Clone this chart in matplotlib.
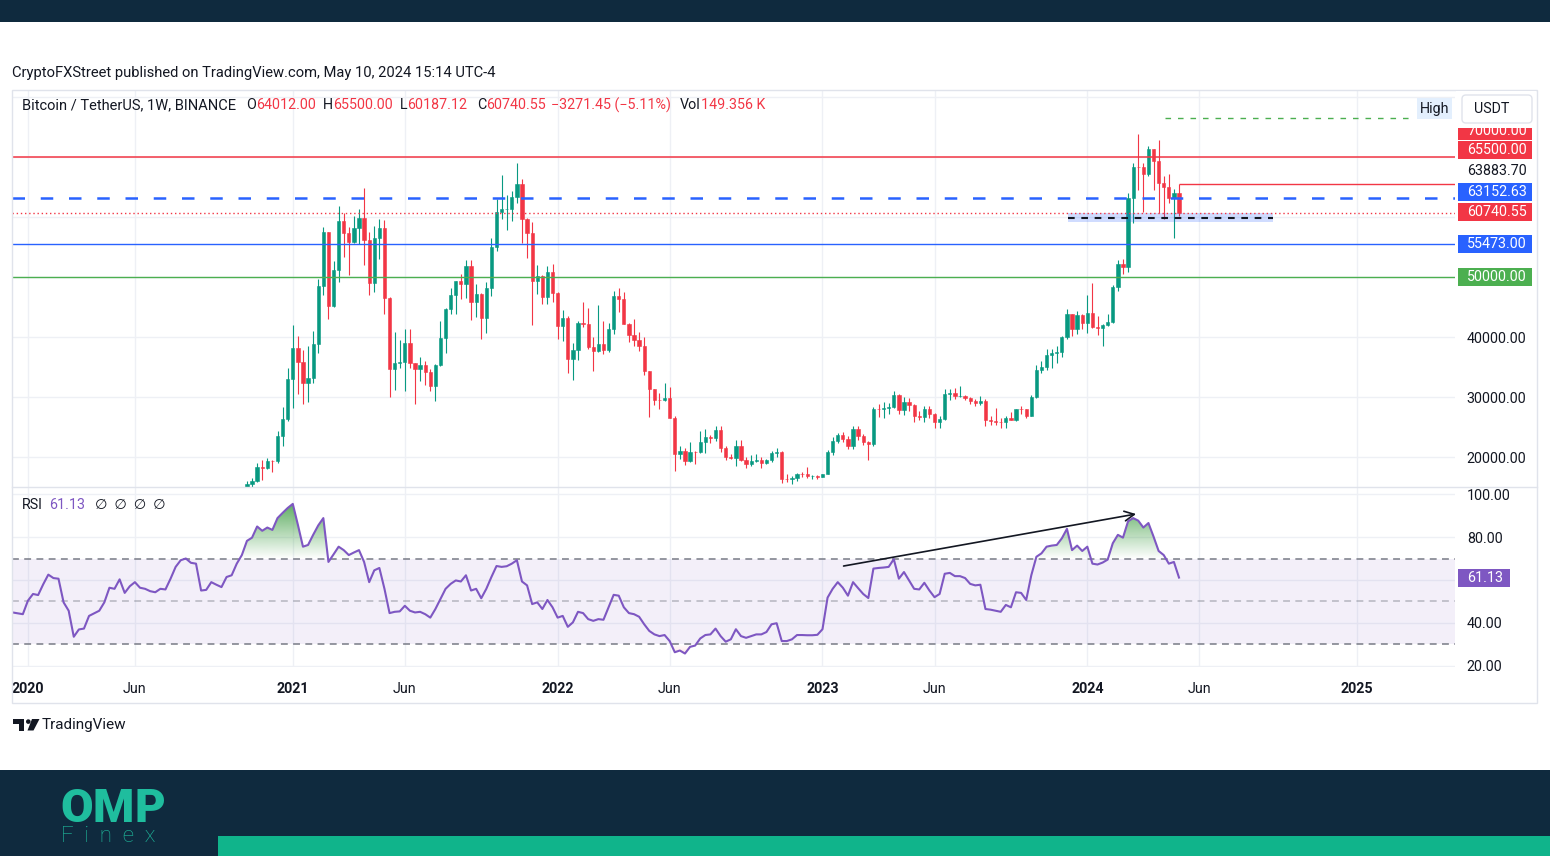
import numpy as np
import pandas as pd
import matplotlib
matplotlib.use('Agg')
import matplotlib.pyplot as plt
import matplotlib.dates as mdates
from matplotlib.patches import Rectangle, FancyBboxPatch, PathPatch, Polygon, Circle
from matplotlib.path import Path

plt.rcParams['font.family'] = ['Roboto', 'DejaVu Sans']
plt.rcParams['mathtext.fontset'] = 'custom'
plt.rcParams['mathtext.bf'] = 'Roboto:black'

# ---- weekly BTC/USDT candles, first bar = week of 2020-11-02 ----
opens = [
    13737, 15480, 15960, 18410, 18180, 19375, 19270, 23480, 26280,
    33000, 38150, 35830, 32260, 33100, 38860, 48580, 57490, 45140, 51200,
    59300, 57350, 55800, 58200, 59770, 56250, 49050, 56580, 58240, 46430,
    34655, 35660, 35800, 39000, 35600, 34700, 35290, 34250, 31780, 35400,
    39850, 44600, 47050, 49300, 48800, 51800, 45900, 47250, 43200, 48200,
    54970, 60860, 61300, 61320, 63270, 65500, 59700, 57270, 49400, 50100,
    46700, 50800,
    47300, 41860, 43100, 36280, 37900, 42400, 42200, 38350, 37700, 38800,
    37780, 41260, 46830, 46400, 42150, 40380, 39450, 38470, 34300, 31330,
    29450, 29440, 29900, 26570, 20550, 21030, 19300, 20830, 20800, 22580,
    23300, 23180, 24440, 21520, 20050, 19800, 21830, 19420, 18800, 19310,
    19420, 19060, 19570, 20630, 20900, 16330, 16280, 16450, 17100, 17090,
    16780, 16840,
    16620, 17120, 20880, 22700, 23750, 22930, 21780, 24630, 23550, 22430,
    22130, 28000, 27990, 28170, 28330, 30300, 27820, 29230, 28700, 26900,
    26750, 28080, 27100, 25900, 26340, 30470, 30590, 30160, 30230, 29790,
    29280, 29050, 29280, 26100, 26000, 25840, 25830, 26530, 26250, 27990,
    27930, 26860, 29990, 34530, 35010, 37060, 37380, 37450, 39970, 43790,
    41370, 43720,
    42280, 43930, 41730, 41580, 42030, 42580, 48300, 52140, 51730, 63110,
    68350, 68300, 67210, 71280, 69360, 65660, 64940, 63100, 64012,
]
highs = [
    15960, 16480, 18950, 19480, 19915, 19420, 24295, 28400, 34800,
    41950, 40100, 37850, 38530, 40950, 49700, 58350, 57530, 52640, 61840,
    60630, 58400, 60200, 61300, 64850, 57520, 58460, 59600, 59500, 46660,
    40900, 39480, 41300, 41400, 35750, 36600, 35950, 34680, 35500, 42600,
    44800, 48150, 49400, 50500, 52900, 52900, 48850, 47350, 49230, 56560,
    62930, 67000, 63700, 64270, 69000, 66400, 59900, 59180, 51950, 50400,
    51900, 52100,
    47560, 44500, 43500, 38920, 42650, 45850, 44770, 40000, 45400, 42600,
    42330, 47700, 48190, 47500, 42400, 42980, 40800, 40000, 34400, 31350,
    30600, 32400, 31750, 26880, 21870, 21540, 22500, 21000, 24280, 24670,
    23650, 25200, 25200, 21900, 20580, 22800, 22800, 19960, 20400, 20480,
    19950, 19700, 21080, 21480, 21050, 17190, 16770, 17400, 17420, 18390,
    17060, 16970,
    17180, 21250, 23380, 23960, 24250, 23450, 25250, 25130, 23880, 22600,
    28400, 28870, 29200, 29000, 31000, 30550, 30030, 29870, 28900, 27650,
    28450, 28450, 27400, 26790, 31400, 31300, 31520, 31800, 30340, 29990,
    29730, 30240, 29680, 26830, 28150, 26430, 26780, 27480, 28050, 28580,
    27990, 30380, 35280, 35980, 37980, 37980, 38420, 40250, 44700, 43800,
    44300, 43800,
    47000, 48970, 43580, 42200, 43880, 48600, 52820, 52990, 64000, 69000,
    73780, 68920, 71770, 71340, 72800, 66870, 67230, 64700, 65500,
]
lows = [
    13200, 15080, 15800, 16200, 18000, 17570, 19000, 21800, 26000,
    28130, 30420, 28850, 29240, 32300, 37400, 47000, 43000, 44950, 49200,
    53270, 50400, 55680, 55470, 52000, 47000, 47450, 53000, 43800, 30000,
    31100, 34800, 31000, 34800, 28800, 32700, 32000, 31000, 29280, 35200,
    37300, 43800, 43900, 46300, 46500, 42800, 43370, 39600, 40750, 46900,
    54400, 59600, 57800, 59400, 62300, 55600, 53250, 42000, 47100, 45500,
    45560, 45800,
    39650, 39400, 34000, 32900, 36250, 41700, 38000, 34300, 37450, 37150,
    37550, 40470, 44200, 42100, 39200, 38500, 37700, 33700, 26700, 28600,
    28000, 29300, 26550, 17600, 19600, 18600, 19250, 18900, 20750, 20700,
    22400, 22660, 20760, 19520, 19600, 18500, 19300, 18150, 18470, 19100,
    18190, 18900, 19240, 20050, 15590, 15800, 15480, 16000, 16750, 16530,
    16400, 16330,
    16600, 17100, 20400, 22300, 22500, 21350, 21350, 22800, 21970, 19550,
    21900, 26600, 26500, 27200, 28170, 27130, 26940, 27680, 25800, 26100,
    25870, 26500, 24800, 24800, 26250, 29500, 29700, 29950, 29500, 28860,
    28580, 28700, 25170, 25350, 25330, 24900, 24900, 26100, 26000, 27160,
    26550, 26840, 29900, 34080, 34520, 34800, 35630, 36700, 39700, 40200,
    40550, 41400,
    40750, 41500, 40280, 38550, 41880, 42260, 47700, 50520, 50900, 59000,
    64530, 60775, 66800, 64500, 60660, 59600, 62400, 56550, 60187.12,
]
closes = [
    15480, 15960, 18410, 18180, 19375, 19270, 23480, 26280, 33000,
    38150, 35830, 32260, 33100, 38860, 48580, 57490, 45140, 51200, 59300,
    57350, 55800, 58200, 59770, 56250, 49050, 56580, 58240, 46430, 34655,
    35660, 35800, 39000, 35600, 34700, 35290, 34250, 31780, 35400, 39850,
    44600, 47050, 49300, 48800, 51800, 45900, 47250, 43200, 48200, 54970,
    60860, 61300, 61320, 63270, 65500, 59700, 57270, 49400, 50100, 46700,
    50800, 47300,
    41860, 43100, 36280, 37900, 42400, 42200, 38350, 37700, 38800, 37780,
    41260, 46830, 46400, 42150, 40380, 39450, 38470, 34300, 31330, 29450,
    29440, 29900, 26570, 20550, 21030, 19300, 20830, 20800, 22580, 23300,
    23180, 24440, 21520, 20050, 19800, 21830, 19420, 18800, 19310, 19420,
    19060, 19570, 20630, 20900, 16330, 16280, 16450, 17100, 17090, 16780,
    16840, 16620,
    17120, 20880, 22700, 23750, 22930, 21780, 24630, 23550, 22430, 22130,
    28000, 27990, 28170, 28330, 30300, 27820, 29230, 28700, 26900, 26750,
    28080, 27100, 25900, 26340, 30470, 30590, 30160, 30230, 29790, 29280,
    29050, 29280, 26100, 26000, 25840, 25830, 26530, 26250, 27990, 27930,
    26860, 29990, 34530, 35010, 37060, 37380, 37450, 39970, 43790, 41370,
    43720, 42280,
    43930, 41730, 41580, 42030, 42580, 48300, 52140, 51730, 63110, 68350,
    68300, 67210, 71280, 69360, 65660, 64940, 63100, 64012, 60740.55,
]
volume_label = '149.356 K'

# ---- weekly RSI(14), first value = week of 2019-12-16 ----
rsi = [
    44.9, 44.5, 44.1, 50.4, 53.5, 53.0, 58.0, 62.5, 60.9, 60.6,
    49.6, 45.7, 33.6, 37.0, 37.4, 43.3, 44.5, 45.7, 49.6, 56.4,
    55.9, 60.3, 54.0, 57.1, 59.0, 56.4, 55.9, 54.8, 54.3, 55.9,
    55.6, 60.6, 66.1, 69.2, 70.0, 68.0, 67.6, 55.1, 55.4, 59.0,
    57.8, 56.7, 61.4, 62.2, 67.6, 71.6, 78.2, 79.7, 84.9, 82.9,
    84.4, 83.3, 88.8, 91.2, 93.5, 95.4, 85.7, 75.5, 76.3, 81.0,
    85.4, 88.8, 68.4, 71.9, 75.5, 73.9, 71.6, 72.8, 73.9, 68.4,
    59.0, 64.5, 65.6, 55.9, 44.6, 45.2, 45.4, 48.0, 45.7, 44.9,
    45.2, 44.1, 42.5, 46.5, 51.2, 55.9, 58.2, 59.8, 59.3, 62.2,
    55.1, 55.9, 51.5, 55.9, 61.4, 66.5, 66.1, 66.4, 67.6, 69.2,
    59.3, 57.5, 48.8, 49.6, 46.5, 50.7, 47.3, 42.5, 43.3, 38.2,
    40.3, 45.2, 44.6, 41.8, 41.0, 41.8, 41.5, 47.3, 53.1, 52.7,
    47.3, 44.6, 44.1, 42.9, 39.4, 36.3, 34.7, 33.9, 34.4, 31.6,
    26.4, 27.2, 25.8, 28.9, 29.5, 32.8, 34.4, 34.7, 37.4, 33.9,
    31.3, 32.4, 37.1, 33.9, 33.1, 33.9, 34.7, 34.7, 35.8, 39.4,
    39.9, 31.6, 31.6, 32.4, 34.4, 34.4, 34.3, 34.3, 34.5, 37.1,
    51.8, 55.9, 59.0, 56.4, 52.7, 59.0, 56.2, 53.5, 51.6, 65.3,
    65.6, 65.8, 66.1, 69.7, 60.6, 63.7, 59.8, 55.9, 55.6, 58.7,
    55.1, 52.0, 53.5, 62.9, 63.3, 61.8, 61.8, 60.9, 58.2, 57.5,
    57.8, 46.5, 46.2, 45.7, 45.2, 48.4, 47.3, 54.3, 54.0, 50.7,
    62.2, 70.8, 72.4, 75.5, 76.0, 76.3, 79.4, 83.8, 73.9, 76.0,
    73.5, 75.5, 67.6, 67.2, 68.1, 69.5, 77.1, 81.0, 79.7, 87.3,
    88.8, 87.6, 84.4, 86.5, 80.2, 73.5, 71.6, 67.6, 68.4, 61.13,
]

# horizontal levels drawn on the chart
level_ath = 70000
level_dash = 63152.63
level_support = 55473
level_round = 50000
level_high = 76500
zone_mid, zone_lo, zone_hi = 59900, 59200, 60650
zone_dates = ['2023-12-06', '2024-09-12']
high_dates = ['2024-04-17', '2025-03-26']
extra_label = '63883.70'

# trend arrow on the RSI
arrow_dates = ['2023-01-31', '2024-03-08']
arrow_rsi = [66.5, 90.7]

tick_dates = ['2020-01-06', '2020-06-01', '2021-01-04', '2021-06-07', '2022-01-03', '2022-06-06',
              '2023-01-02', '2023-06-05', '2024-01-01', '2024-06-03', '2025-01-06']
tick_labels = ['2020', 'Jun', '2021', 'Jun', '2022', 'Jun', '2023', 'Jun', '2024', 'Jun', '2025']

W, H = 1550, 856
NAVY = '#0f2a3e'
TEAL = '#1fbd9e'
BAR = '#10b48b'
TXT = '#131722'
RED = '#f23645'
UP = '#089981'
BLUE = '#2962ff'
LGREEN = '#4caf50'
PURPLE = '#7e57c2'
GRID = '#eef0f5'
FRAME = '#e0e3eb'

fig = plt.figure(figsize=(W / 100, H / 100), dpi=100)
fig.patch.set_facecolor('white')


def rect(x0, y0, x1, y1):
    return [x0 / W, 1 - y1 / H, (x1 - x0) / W, (y1 - y0) / H]


ax_p = fig.add_axes(rect(12, 90, 1455, 487))
ax_r = fig.add_axes(rect(12, 487, 1455, 667))
ov = fig.add_axes([0, 0, 1, 1], zorder=10)
ov.set_xlim(0, W)
ov.set_ylim(H, 0)
ov.axis('off')

o = np.array(opens, float)
h = np.array(highs, float)
l = np.array(lows, float)
c = np.array(closes, float)
r = np.array(rsi, float)
weeks = pd.date_range('2020-11-02', periods=len(c), freq='7D')
rsi_weeks = pd.date_range('2019-12-16', periods=len(r), freq='7D')
xc = mdates.date2num(weeks)
xr = mdates.date2num(rsi_weeks)


def dn(s):
    return mdates.date2num(pd.Timestamp(s))


# last bar sits at px 1179, 0.7276 px per day
px_day = 0.7276
xlim = (xc[-1] + (12 - 1179) / px_day, xc[-1] + (1455 - 1179) / px_day)

for ax in (ax_p, ax_r):
    ax.set_facecolor('white')
    for s in ax.spines.values():
        s.set_visible(False)
    ax.set_xticks([dn(d) for d in tick_dates])
    ax.grid(True, color=GRID, lw=1)
    ax.set_axisbelow(True)
    ax.yaxis.tick_right()
    ax.tick_params(length=0, labelsize=10.3, labelcolor=TXT, pad=8.5)

ax_p.tick_params(labelbottom=False)

# candles
cols = np.where(c >= o, UP, RED)
ax_p.vlines(xc, l, h, colors=cols, lw=0.8, zorder=2)
ax_p.bar(xc, np.abs(c - o), bottom=np.minimum(o, c), width=4.5, color=cols,
         edgecolor=cols, linewidth=0.4, zorder=2)

# levels
ax_p.axhline(level_ath, color=RED, lw=1.1, zorder=3)
ax_p.axhline(level_dash, color=BLUE, lw=1.8, linestyle=(0, (5, 6.3)), zorder=3)
ax_p.axhline(c[-1], color=RED, lw=1, linestyle=(0, (1, 2)), zorder=3)
ax_p.axhline(level_support, color=BLUE, lw=1, zorder=3)
ax_p.axhline(level_round, color=LGREEN, lw=1, zorder=3)
ax_p.hlines(h[-1], xc[-1], xlim[1], color=RED, lw=1, zorder=3)
ax_p.hlines(level_high, dn(high_dates[0]), dn(high_dates[1]), color=LGREEN, lw=1,
            linestyle=(0, (4, 5)), zorder=3)
ax_p.fill_between([dn(zone_dates[0]), dn(zone_dates[1])], zone_lo, zone_hi,
                  color=BLUE, alpha=0.22, lw=0, zorder=2.5)
ax_p.hlines(zone_mid, dn(zone_dates[0]), dn(zone_dates[1]), color=TXT, lw=1.5,
            linestyle=(0, (3.2, 3.2)), zorder=3)

ax_p.set_yticks(range(20000, 80001, 10000))
ax_p.set_yticklabels([f'{v:.2f}' if v <= 40000 else '' for v in range(20000, 80001, 10000)])
ax_p.set_xlim(*xlim)
ax_p.set_ylim(15000, 81167)

# RSI pane
ax_r.axhspan(30, 70, color=PURPLE, alpha=0.09, lw=0, zorder=1)
ax_r.axhline(70, color='#787b86', lw=1.1, linestyle=(0, (4.5, 3.5)), zorder=2)
ax_r.axhline(30, color='#787b86', lw=1.1, linestyle=(0, (4.5, 3.5)), zorder=2)
ax_r.axhline(50, color='#787b86', alpha=0.5, lw=1.1, linestyle=(0, (4.5, 3.5)), zorder=2)


def gradient_fill(mask, base, top, rgb, amax):
    fb = ax_r.fill_between(xr, r, base, where=mask, interpolate=True, color='none', lw=0)
    paths = fb.get_paths()
    if not paths:
        return
    clip = PathPatch(Path.make_compound_path(*paths), transform=ax_r.transData,
                     fc='none', ec='none')
    ax_r.add_patch(clip)
    g = np.zeros((256, 1, 4))
    g[..., :3] = matplotlib.colors.to_rgb(rgb)
    g[:, 0, 3] = np.linspace(0, amax, 256)
    lo, hi = (base, top) if top > base else (top, base)
    im = ax_r.imshow(g if top > base else g[::-1], extent=[xr[0], xr[-1], lo, hi],
                     origin='lower', aspect='auto', zorder=2.5, interpolation='bilinear')
    im.set_clip_path(clip)


gradient_fill(r > 70, 70, 100, '#43a047', 1.0)
gradient_fill(r < 30, 30, 0, RED, 1.0)

ax_r.plot(xr, r, color=PURPLE, lw=1.5, zorder=3)
ax_r.annotate('', xy=(dn(arrow_dates[1]), arrow_rsi[1]), xytext=(dn(arrow_dates[0]), arrow_rsi[0]),
              arrowprops=dict(arrowstyle='->,head_length=0.7,head_width=0.35', color=TXT,
                              lw=1.2, shrinkA=0, shrinkB=0), zorder=4)

ax_r.set_yticks([20, 40, 60, 80, 100])
ax_r.set_yticklabels(['20.00', '40.00', '', '80.00', '100.00'])
ax_r.set_xticklabels(tick_labels)
ax_r.tick_params(axis='x', pad=10.5)
for t in ax_r.get_xticklabels():
    if t.get_text() != 'Jun':
        t.set_fontweight('bold')
ax_r.set_xlim(*xlim)
ax_r.set_ylim(19.53, 103.26)

# ---- overlay: bands, frame, header, scale badges, footer ----
ov.add_patch(Rectangle((0, 0), W, 22, fc=NAVY, ec='none', zorder=0))
ov.add_patch(Rectangle((0, 770), W, 86, fc=NAVY, ec='none', zorder=0))
ov.add_patch(Rectangle((218, 836), W - 218, 20, fc=BAR, ec='none', zorder=1))
ov.add_patch(Rectangle((12, 90), 1525, 613, fill=False, ec=FRAME, lw=1, zorder=1))
ov.plot([12, 1537], [487, 487], color=FRAME, lw=1, zorder=1)

ov.text(12, 73, 'CryptoFXStreet published on TradingView.com, May 10, 2024 15:14 UTC-4',
        fontsize=10.6, color=TXT, va='center')

renderer = fig.canvas.get_renderer()


def pieces(x, y, items, size=10.3):
    for s, col in items:
        t = ov.text(x, y, s, fontsize=size, color=col, va='center', ha='left', zorder=3)
        x += t.get_window_extent(renderer).width
    return x


chg = c[-1] - o[-1]
pct = chg / o[-1] * 100
header = [
    (22, [('Bitcoin / TetherUS, 1W, BINANCE', TXT)], 10.5),
    (246, [('O', TXT), (f'{o[-1]:.2f}', RED)], 10.3),
    (323, [('H', TXT), (f'{h[-1]:.2f}', RED)], 10.3),
    (400, [('L', TXT), (f'{l[-1]:.2f}', RED)], 10.3),
    (477, [('C', TXT), (f'{c[-1]:.2f}', RED)], 10.3),
    (551, [(f'{chg:.2f} ({pct:.2f}%)'.replace('-', '\u2212'), RED)], 10.3),
    (680, [('Vol', TXT), (volume_label, RED)], 10.3),
]
for x0, items, fs in header:
    pieces(x0, 105, items, fs)

ov.text(22, 505, 'RSI', fontsize=10.3, color=TXT, va='center', zorder=3)
ov.text(49, 505, f'{r[-1]:.2f}', fontsize=10.3, color=PURPLE, va='center', zorder=3)
ov.text(95, 505, '\u2205  \u2205  \u2205  \u2205', fontsize=10.3, color=TXT, va='center', zorder=3)

badges = [
    (131, f'{level_ath:.2f}', RED),
    (150, f'{h[-1]:.2f}', RED),
    (192, f'{level_dash:.2f}', BLUE),
    (212, f'{c[-1]:.2f}', RED),
    (244, f'{level_support:.2f}', BLUE),
    (277, f'{level_round:.2f}', LGREEN),
]
for y, s, col in badges:
    ov.add_patch(Rectangle((1458, y - 9), 74, 18, fc=col, ec='none', zorder=2))
    ov.text(1467, y, s, color='white', fontsize=10.3, va='center', zorder=3)
ov.text(1467, 171, extra_label, color=TXT, fontsize=10.3, va='center', zorder=3)

ov.add_patch(Rectangle((1458, 569), 52, 18, fc=PURPLE, ec='none', zorder=2))
ov.text(1467, 578, f'{r[-1]:.2f}', color='white', fontsize=10.3, va='center', zorder=3)

# header corner boxes
ov.add_patch(Rectangle((1456, 91), 80, 37, fc='white', ec='none', zorder=4))
ov.add_patch(FancyBboxPatch((1462, 95), 70, 28, boxstyle='round,pad=0,rounding_size=4',
                            fc='white', ec=FRAME, lw=1, zorder=5))
ov.text(1474, 109, 'USDT', fontsize=10.3, color=TXT, va='center', zorder=6)
ov.add_patch(Rectangle((1417, 98), 35, 21, fc='#e3effd', ec='none', zorder=5))
ov.text(1435, 108.5, 'High', fontsize=10.3, color=TXT, va='center', ha='center', zorder=6)

# TradingView mark
ov.add_patch(Polygon([(12.5, 719), (24, 719), (24, 730.5), (19, 730.5), (19, 723.5), (12.5, 723.5)],
                     closed=True, fc=TXT, ec='none', zorder=3))
ov.add_patch(Circle((28.3, 721.6), 2.3, fc=TXT, ec='none', zorder=3))
ov.add_patch(Polygon([(32, 719), (39.5, 719), (33.5, 730.5), (27.5, 730.5)],
                     closed=True, fc=TXT, ec='none', zorder=3))
ov.text(42, 725, 'TradingView', fontsize=11, color=TXT, va='center', zorder=3)

# OMP Finex logo (mathtext keeps the word's box tight to its glyphs)
ov.text(60, 822, r'$\mathbf{OMP}$', fontsize=34, color=TEAL, va='baseline', zorder=3)
ov.text(61, 842, 'F  i  n  e  x', fontsize=16, fontweight='light', color=TEAL,
        va='baseline', ha='left', zorder=3)

fig.savefig('out.png', dpi=100)
